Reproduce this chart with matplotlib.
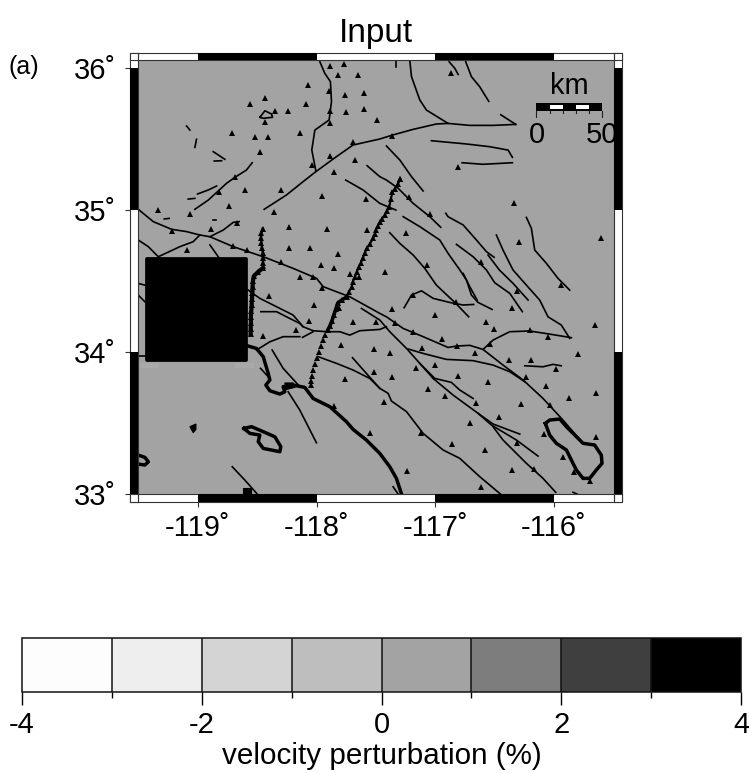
import numpy as np
from matplotlib import pyplot as plt
from matplotlib.colors import ListedColormap, BoundaryNorm
from matplotlib.patches import Rectangle, Polygon

plt.rcParams['font.family'] = ['Liberation Sans', 'DejaVu Sans']

W, H = 749, 773

# velocity scale
levels = [-4, -3, -2, -1, 0, 1, 2, 3, 4]
greys = ['#fdfdfd', '#eeeeee', '#d4d4d4', '#bebebe', '#a3a3a3', '#7d7d7d', '#3f3f3f', '#000000']
cbar_ticks = [-4, -2, 0, 2, 4]
cbar_minor = [-3, -1, 1, 3]

# input model: one anomaly on a flat background
model_lon = [-119.505, -119.43, -118.595, -115.495]
model_lat = [33.0, 33.942, 34.657, 36.053]
model_dv = [[0.5, 0.5, 0.5],
            [0.5, 4.0, 0.5],
            [0.5, 0.5, 0.5]]

lon_ticks = [-119, -118, -117, -116]
lat_ticks = [33, 34, 35, 36]
lon_labels = ['-119˚', '-118˚', '-117˚', '-116˚']
lat_labels = ['33˚', '34˚', '35˚', '36˚']

stations = [
    (-117.889, 36.014), (-117.769, 36.030), (-117.819, 35.951), (-117.653, 35.951), (-118.072, 35.883),
    (-117.898, 35.840), (-117.757, 35.812), (-117.600, 35.824), (-118.439, 35.789), (-118.563, 35.744),
    (-118.091, 35.744), (-118.349, 35.699), (-118.243, 35.699), (-117.886, 35.699), (-117.749, 35.692),
    (-117.603, 35.714), (-117.494, 35.634), (-118.439, 35.622), (-117.889, 35.613), (-118.711, 35.540),
    (-118.521, 35.512), (-118.411, 35.512), (-118.142, 35.540), (-117.693, 35.481), (-118.481, 35.408),
    (-117.889, 35.380), (-117.673, 35.350), (-118.041, 35.319), (-117.850, 35.270), (-118.689, 35.230),
    (-118.602, 35.139), (-118.299, 35.139), (-118.826, 35.129), (-117.951, 35.101), (-117.583, 35.080),
    (-118.742, 35.031), (-119.337, 35.000), (-119.071, 34.972), (-118.361, 34.984), (-118.234, 34.880),
    (-117.912, 34.869), (-117.572, 34.862), (-118.891, 34.869), (-119.222, 34.855), (-118.675, 34.911),
    (-119.090, 34.721), (-118.234, 34.730), (-118.055, 34.730), (-117.819, 34.693), (-117.962, 34.610),
    (-117.850, 34.592), (-118.142, 34.531), (-118.030, 34.531), (-117.721, 34.549), (-117.645, 34.531),
    (-118.299, 34.636), (-118.585, 34.721), (-118.703, 34.749), (-116.870, 35.962), (-117.361, 35.523),
    (-116.811, 35.300), (-117.294, 35.216), (-117.226, 35.094), (-117.041, 34.970), (-116.340, 35.052),
    (-117.249, 34.840), (-116.292, 34.775), (-115.605, 34.803), (-117.072, 34.613), (-117.420, 34.561),
    (-116.612, 34.634), (-116.309, 34.431), (-115.941, 34.471), (-117.187, 34.401), (-116.828, 34.349),
    (-117.361, 34.300), (-117.002, 34.262), (-116.351, 34.312), (-116.573, 34.211), (-116.503, 34.159),
    (-115.655, 34.190), (-117.496, 34.213), (-117.339, 34.206), (-117.187, 34.138), (-116.940, 34.091),
    (-116.205, 34.152), (-116.054, 34.108), (-116.542, 34.058), (-116.814, 34.042), (-117.513, 34.021),
    (-117.381, 33.993), (-117.114, 34.028), (-116.665, 33.993), (-116.382, 33.941), (-116.194, 33.941),
    (-115.801, 33.983), (-117.002, 33.910), (-117.165, 33.889), (-117.513, 33.861), (-117.361, 33.824),
    (-116.811, 33.831), (-116.233, 33.821), (-115.981, 33.880), (-116.556, 33.788), (-117.064, 33.741),
    (-116.065, 33.758), (-116.921, 33.690), (-115.874, 33.678), (-115.644, 33.711), (-117.431, 33.648),
    (-116.654, 33.641), (-116.281, 33.631), (-116.037, 33.629), (-116.460, 33.540), (-116.705, 33.500),
    (-117.552, 33.429), (-117.123, 33.429), (-116.084, 33.420), (-115.644, 33.399), (-116.309, 33.361),
    (-116.862, 33.350), (-116.584, 33.310), (-115.925, 33.260), (-117.235, 33.159), (-116.351, 33.171),
    (-116.171, 33.174), (-115.832, 33.152), (-115.697, 33.094), (-116.612, 33.049), (-117.951, 34.453),
    (-118.400, 34.394), (-118.021, 34.331), (-118.063, 34.220), (-117.811, 34.307), (-117.693, 34.211),
    (-118.175, 34.152), (-118.450, 34.112), (-117.791, 34.049), (-117.757, 33.812), (-117.850, 33.619),
]

# the two dense linear arrays
array_east = [
    (-117.294, 35.218), (-117.316, 35.183), (-117.342, 35.148), (-117.361, 35.127), (-117.375, 35.077),
    (-117.388, 35.021), (-117.409, 34.993), (-117.426, 34.965), (-117.451, 34.937), (-117.468, 34.915),
    (-117.485, 34.887), (-117.502, 34.859), (-117.510, 34.831), (-117.523, 34.803), (-117.552, 34.761),
    (-117.577, 34.732), (-117.594, 34.697), (-117.611, 34.662), (-117.628, 34.627), (-117.645, 34.599),
    (-117.662, 34.563), (-117.678, 34.528), (-117.695, 34.493), (-117.706, 34.458), (-117.729, 34.423),
    (-117.748, 34.387), (-117.788, 34.366), (-117.822, 34.345), (-117.838, 34.303), (-117.855, 34.261),
    (-117.872, 34.218), (-117.889, 34.183), (-117.906, 34.155), (-117.927, 34.120), (-117.948, 34.085),
    (-117.965, 34.042), (-117.981, 34.000), (-117.998, 33.958), (-118.015, 33.915), (-118.032, 33.873),
    (-118.040, 33.831), (-118.049, 33.796), (-118.051, 33.768),
]
array_west = [
    (-118.455, 34.868), (-118.465, 34.838), (-118.470, 34.803), (-118.465, 34.768), (-118.461, 34.732),
    (-118.452, 34.697), (-118.452, 34.662), (-118.452, 34.627), (-118.452, 34.592), (-118.495, 34.563),
    (-118.529, 34.535), (-118.537, 34.500), (-118.540, 34.458), (-118.541, 34.415), (-118.545, 34.373),
    (-118.548, 34.331), (-118.551, 34.289), (-118.554, 34.246), (-118.554, 34.204), (-118.556, 34.162),
    (-118.556, 34.127),
]

faults = [
    [(-117.973, 36.044), (-117.931, 35.962), (-117.884, 35.904), (-117.875, 35.763), (-117.895, 35.634),
     (-118.015, 35.563), (-118.041, 35.423), (-118.007, 35.277)],
    [(-118.442, 35.005), (-118.254, 35.106), (-118.114, 35.200), (-118.007, 35.270), (-117.833, 35.376),
     (-117.693, 35.458), (-117.468, 35.500), (-117.361, 35.528), (-117.187, 35.568), (-116.991, 35.606),
     (-116.893, 35.610), (-116.710, 35.596), (-116.514, 35.596), (-116.323, 35.603)],
    [(-117.215, 36.051), (-117.201, 35.939), (-117.131, 35.775), (-117.075, 35.704), (-116.893, 35.610)],
    [(-117.328, 36.051), (-117.328, 36.009)],
    [(-116.884, 36.044), (-116.836, 35.998), (-116.808, 35.955)],
    [(-116.744, 36.044), (-116.696, 35.939), (-116.626, 35.868), (-116.550, 35.765)],
    [(-116.449, 35.671), (-116.323, 35.603)],
    [(-117.033, 35.488), (-116.738, 35.465), (-116.542, 35.446), (-116.387, 35.422), (-116.351, 35.371)],
    [(-116.775, 35.333), (-116.598, 35.322), (-116.351, 35.333)],
    [(-117.412, 35.451), (-117.299, 35.352), (-117.201, 35.235), (-117.103, 35.134)],
    [(-117.575, 35.312), (-117.468, 35.235), (-117.412, 35.211), (-117.313, 35.153), (-117.187, 35.047),
     (-117.047, 34.953), (-116.954, 34.878)],
    [(-117.755, 35.211), (-117.609, 35.141), (-117.468, 35.047), (-117.333, 35.000)],
    [(-117.271, 34.953), (-117.131, 34.883), (-116.963, 34.789), (-116.893, 34.695), (-116.794, 34.578),
     (-116.738, 34.507), (-116.696, 34.401), (-116.640, 34.349), (-116.522, 34.300)],
    [(-116.766, 34.554), (-116.710, 34.460), (-116.648, 34.366)],
    [(-117.384, 34.840), (-117.299, 34.765), (-117.187, 34.683), (-117.089, 34.589), (-116.991, 34.471),
     (-116.836, 34.349), (-116.719, 34.248)],
    [(-117.263, 34.312), (-117.201, 34.401), (-117.117, 34.431), (-117.019, 34.378), (-116.879, 34.349),
     (-116.766, 34.331), (-116.677, 34.335)],
    [(-116.912, 34.977), (-116.893, 34.953), (-116.766, 34.895), (-116.654, 34.789), (-116.570, 34.707),
     (-116.505, 34.667)],
    [(-116.822, 34.758), (-116.682, 34.671), (-116.570, 34.578), (-116.500, 34.488), (-116.373, 34.413),
     (-116.267, 34.284)],
    [(-116.556, 34.683), (-116.460, 34.577), (-116.345, 34.483), (-116.219, 34.366)],
    [(-116.486, 34.824), (-116.430, 34.718), (-116.360, 34.601), (-116.345, 34.577), (-116.233, 34.471),
     (-116.121, 34.366), (-116.051, 34.248), (-115.939, 34.190), (-115.868, 34.096)],
    [(-116.233, 34.948), (-116.191, 34.871), (-116.163, 34.718), (-116.065, 34.625), (-115.967, 34.519),
     (-115.868, 34.436)],
    [(-116.598, 34.018), (-116.514, 34.084), (-116.373, 34.143), (-116.205, 34.148), (-116.037, 34.126),
     (-115.854, 34.101)],
    [(-119.503, 35.005), (-119.376, 34.918), (-119.222, 34.864), (-119.096, 34.848), (-118.984, 34.824),
     (-118.899, 34.812), (-118.703, 34.742), (-118.450, 34.671), (-118.198, 34.589), (-118.001, 34.519),
     (-117.945, 34.460), (-117.721, 34.389), (-117.468, 34.272), (-117.412, 34.248), (-117.271, 34.166),
     (-117.103, 34.108), (-116.893, 34.032), (-116.822, 34.042), (-116.710, 34.047), (-116.598, 34.018),
     (-116.430, 33.908), (-116.261, 33.803), (-116.093, 33.673), (-115.925, 33.521), (-115.756, 33.357)],
    [(-119.503, 34.789), (-119.418, 34.742), (-119.334, 34.671)],
    [(-119.334, 34.671), (-119.152, 34.742), (-119.040, 34.777), (-118.984, 34.824)],
    [(-118.899, 34.754), (-118.829, 34.671)],
    [(-118.899, 34.812), (-118.787, 34.859), (-118.703, 34.913), (-118.653, 34.918)],
    [(-119.026, 35.005), (-118.913, 35.070), (-118.759, 35.188), (-118.689, 35.230), (-118.591, 35.282),
     (-118.543, 35.333)],
    [(-119.003, 35.113), (-118.913, 35.141), (-118.843, 35.169)],
    [(-119.082, 35.077), (-119.026, 35.082)],
    [(-118.871, 35.411), (-118.773, 35.357)],
    [(-118.863, 35.345), (-118.801, 35.347)],
    [(-119.026, 35.441), (-119.012, 35.498)],
    [(-119.096, 35.592), (-119.068, 35.563)],
    [(-119.284, 34.937), (-119.242, 34.941)],
    [(-118.871, 34.930), (-118.849, 34.930)],
    [(-118.478, 35.653), (-118.436, 35.699), (-118.380, 35.676), (-118.372, 35.653), (-118.450, 35.646),
     (-118.478, 35.653)],
    [(-118.577, 34.436), (-118.479, 34.378), (-118.338, 34.319), (-118.198, 34.260), (-118.114, 34.178),
     (-118.030, 34.150), (-117.917, 34.143), (-117.805, 34.143), (-117.721, 34.119), (-117.637, 34.150),
     (-117.468, 34.159), (-117.412, 34.178)],
    [(-118.470, 34.284), (-118.338, 34.284), (-118.254, 34.248), (-118.142, 34.201), (-118.114, 34.178)],
    [(-118.507, 34.014), (-118.394, 34.072), (-118.282, 34.108), (-118.142, 34.108)],
    [(-118.119, 34.103), (-118.030, 34.143)],
    [(-117.623, 34.307), (-117.468, 34.225), (-117.384, 34.143), (-117.243, 34.025), (-117.131, 33.920),
     (-117.019, 33.814), (-116.851, 33.697), (-116.640, 33.568), (-116.514, 33.493), (-116.289, 33.422)],
    [(-116.640, 33.568), (-116.528, 33.486), (-116.317, 33.380), (-116.135, 33.267)],
    [(-116.514, 33.474), (-116.430, 33.380), (-116.233, 33.216), (-116.093, 33.110), (-115.986, 33.012)],
    [(-117.229, 34.021), (-117.103, 33.990), (-116.907, 33.948), (-116.682, 33.939), (-116.514, 33.908),
     (-116.373, 33.861), (-116.247, 33.791)],
    [(-117.131, 33.920), (-117.005, 33.814), (-116.865, 33.786), (-116.794, 33.732), (-116.682, 33.673)],
    [(-117.987, 33.967), (-117.833, 33.920), (-117.693, 33.873), (-117.553, 33.814), (-117.468, 33.744),
     (-117.398, 33.709), (-117.370, 33.655), (-117.243, 33.580), (-117.103, 33.427), (-116.935, 33.310),
     (-116.794, 33.251), (-116.626, 33.122), (-116.452, 33.000)],
    [(-117.698, 33.960), (-117.581, 33.849), (-117.468, 33.744)],
    [(-116.247, 33.903), (-116.093, 33.896), (-116.009, 33.913), (-115.939, 33.903)],
    [(-118.375, 34.014), (-118.282, 33.885), (-118.142, 33.756)],
    [(-118.473, 33.885), (-118.408, 33.826)],
    [(-118.240, 33.720), (-118.142, 33.591), (-118.002, 33.361)],
    [(-118.711, 33.192), (-118.605, 33.098), (-118.501, 33.000)],
    [(-117.356, 33.051), (-117.314, 33.000)],
    [(-115.840, 33.012), (-115.807, 33.000)],
    [(-119.503, 34.483), (-119.447, 34.471)],
    [(-119.503, 34.401), (-119.447, 34.354)],
    [(-119.503, 33.972), (-119.447, 33.972)],
]

coast = [
    [(-118.577, 34.042), (-118.507, 34.025), (-118.450, 33.967), (-118.408, 33.849), (-118.394, 33.803),
     (-118.428, 33.767), (-118.394, 33.727), (-118.310, 33.704), (-118.268, 33.720), (-118.282, 33.756),
     (-118.198, 33.767), (-118.100, 33.751), (-118.030, 33.673), (-117.889, 33.615), (-117.749, 33.509),
     (-117.693, 33.455), (-117.581, 33.380), (-117.468, 33.286), (-117.384, 33.192), (-117.328, 33.110),
     (-117.285, 33.000)],
    [(-118.613, 33.462), (-118.549, 33.474), (-118.450, 33.439), (-118.352, 33.403), (-118.302, 33.333),
     (-118.310, 33.298), (-118.450, 33.321), (-118.492, 33.368), (-118.479, 33.415), (-118.563, 33.427),
     (-118.613, 33.462)],
    [(-119.503, 33.274), (-119.447, 33.258), (-119.418, 33.227), (-119.447, 33.204), (-119.503, 33.211)],
    [(-116.073, 33.497), (-116.037, 33.521), (-115.952, 33.528), (-115.896, 33.474), (-115.840, 33.427),
     (-115.756, 33.357), (-115.658, 33.345), (-115.602, 33.274), (-115.596, 33.216), (-115.644, 33.169),
     (-115.700, 33.110), (-115.756, 33.110), (-115.812, 33.169), (-115.854, 33.239), (-115.896, 33.310),
     (-115.981, 33.357), (-116.037, 33.415), (-116.073, 33.497)],
]
blobs = [
    [(-119.068, 33.474), (-119.017, 33.493), (-119.017, 33.455), (-119.040, 33.432)],
    [(-118.619, 33.040), (-118.549, 33.040), (-118.549, 33.002), (-118.619, 33.002)],
    [(-118.268, 33.782), (-118.198, 33.782), (-118.180, 33.752), (-118.260, 33.735)],
]

scale_km = [0, 10, 20, 30, 40, 50]
scale_lon0 = -116.148
scale_deg_per_km = 0.01104

fig = plt.figure(figsize=(W / 100, H / 100), dpi=100)
ax = fig.add_axes([138 / W, 1 - 494 / H, 476 / W, 433.5 / H])

cmap = ListedColormap(greys)
norm = BoundaryNorm(levels, cmap.N)
mesh = ax.pcolormesh(model_lon, model_lat, np.array(model_dv), cmap=cmap, norm=norm, zorder=1)

# rounded edge of the anomaly
ax.add_patch(Rectangle((model_lon[1], model_lat[1]), model_lon[2] - model_lon[1], model_lat[2] - model_lat[1],
                       fc='black', ec='black', lw=2.7, joinstyle='round', zorder=2))
# lighter smear under its corners
for x0 in [-119.49, -118.69]:
    ax.add_patch(Rectangle((x0, 33.885), 0.16, 0.04, fc='#a9a9a9', ec='none', zorder=1.5))

for line in faults:
    xy = np.array(line)
    ax.plot(xy[:, 0], xy[:, 1], color='black', lw=1.2, zorder=3)
for line in coast:
    xy = np.array(line)
    ax.plot(xy[:, 0], xy[:, 1], color='black', lw=2.5, zorder=3, solid_joinstyle='round')
for poly in blobs:
    ax.add_patch(Polygon(poly, fc='black', ec='black', lw=0.8, zorder=3))

xy = np.array(stations)
ax.plot(xy[:, 0], xy[:, 1], '^', color='black', ms=4.4, mew=0, zorder=4)
for arr in [array_east, array_west]:
    xy = np.array(arr)
    ax.plot(xy[:, 0], xy[:, 1], '^', color='black', ms=4, mew=0, zorder=4)
xy = np.array(array_west)
ax.plot(xy[:9, 0], xy[:9, 1], color='black', lw=1.8, zorder=3)
ax.plot(xy[8:, 0], xy[8:, 1], color='black', lw=3, zorder=3)
xy = np.array(array_east)
ax.plot(xy[:26, 0], xy[:26, 1], color='black', lw=1.5, zorder=3)
ax.plot(xy[25:33, 0], xy[25:33, 1], color='black', lw=2.6, zorder=3)

ax.set_xlim(-119.505, -115.495)
ax.set_ylim(33.0, 36.053)

# checkered map frame
fx = 8 / 118.8
fy = 8 / 142
x0, x1 = ax.get_xlim()
y0, y1 = ax.get_ylim()
edge = '#333333'
for yb, h in [(y1, fy), (y0 - fy, fy)]:
    ax.add_patch(Rectangle((x0 - fx, yb), x1 - x0 + 2 * fx, h, fc='white', ec=edge, lw=0.8, clip_on=False, zorder=5))
    for a, b in [(-119, -118), (-117, -116)]:
        ax.add_patch(Rectangle((a, yb), b - a, h, fc='black', ec='none', clip_on=False, zorder=6))
for xb, w in [(x0 - fx, fx), (x1, fx)]:
    ax.add_patch(Rectangle((xb, y0 - fy), w, y1 - y0 + 2 * fy, fc='white', ec=edge, lw=0.8, clip_on=False, zorder=5))
    for a, b in [(33, 34), (35, 36)]:
        ax.add_patch(Rectangle((xb, a), w, b - a, fc='black', ec='none', clip_on=False, zorder=6))
    ax.plot([xb, xb + w], [y1, y1], color=edge, lw=0.8, clip_on=False, zorder=6)
    ax.plot([xb, xb + w], [y0, y0], color=edge, lw=0.8, clip_on=False, zorder=6)
for xb in [x0, x1]:
    ax.plot([xb, xb], [y1, y1 + fy], color=edge, lw=0.8, clip_on=False, zorder=6)
    ax.plot([xb, xb], [y0 - fy, y0], color=edge, lw=0.8, clip_on=False, zorder=6)

for s in ax.spines.values():
    s.set_visible(False)
ax.set_xticks(lon_ticks)
ax.set_xticklabels(lon_labels)
ax.set_yticks(lat_ticks)
ax.set_yticklabels(lat_labels)
ax.tick_params(axis='x', length=9.5, width=0.8, pad=5, labelsize=21, color=edge)
ax.tick_params(axis='y', length=9.5, width=0.8, pad=6, labelsize=21, color=edge)
ax.set_title('Input', fontsize=24, pad=13)
fig.text(9 / W, 1 - 67 / H, '(a)', fontsize=18, va='center')

# scale bar
sx = [scale_lon0 + km * scale_deg_per_km for km in scale_km]
ax.add_patch(Rectangle((sx[0], 35.699), sx[-1] - sx[0], 0.052, fc='black', ec='none', zorder=7))
for i in [1, 3]:
    ax.add_patch(Rectangle((sx[i], 35.709), sx[i + 1] - sx[i], 0.032, fc='white', ec='none', zorder=8))
for i, x in enumerate(sx):
    low = 35.657 if i in (0, 5) else 35.681
    ax.plot([x, x], [low, 35.70], color='#222222', lw=0.8, zorder=7)
ax.text((sx[0] + sx[-1]) / 2, 35.775, 'km', fontsize=21, ha='center', va='bottom', zorder=8)
ax.text(sx[0], 35.63, str(scale_km[0]), fontsize=21, ha='center', va='top', clip_on=True, zorder=8)
ax.text(sx[-1], 35.63, str(scale_km[-1]), fontsize=21, ha='center', va='top', clip_on=True, zorder=8)

# colour bar
cax = fig.add_axes([22 / W, 1 - 691.7 / H, 719 / W, 53.7 / H])
cb = fig.colorbar(mesh, cax=cax, orientation='horizontal', ticks=cbar_ticks, spacing='proportional', drawedges=True)
cb.dividers.set_color('#111111')
cb.dividers.set_linewidth(1.1)
cb.outline.set_linewidth(1.1)
cb.outline.set_edgecolor('#111111')
cax.set_xticks(cbar_minor, minor=True)
cax.tick_params(axis='x', which='major', length=9.5, width=1, pad=4.5, labelsize=21)
cax.tick_params(axis='x', which='minor', length=4.5, width=1)
cb.set_ticklabels(['-4', '-2', '0', '2', '4'])
cb.set_label('velocity perturbation (%)', fontsize=21.3, labelpad=2)

fig.savefig('out.png', dpi=100)
